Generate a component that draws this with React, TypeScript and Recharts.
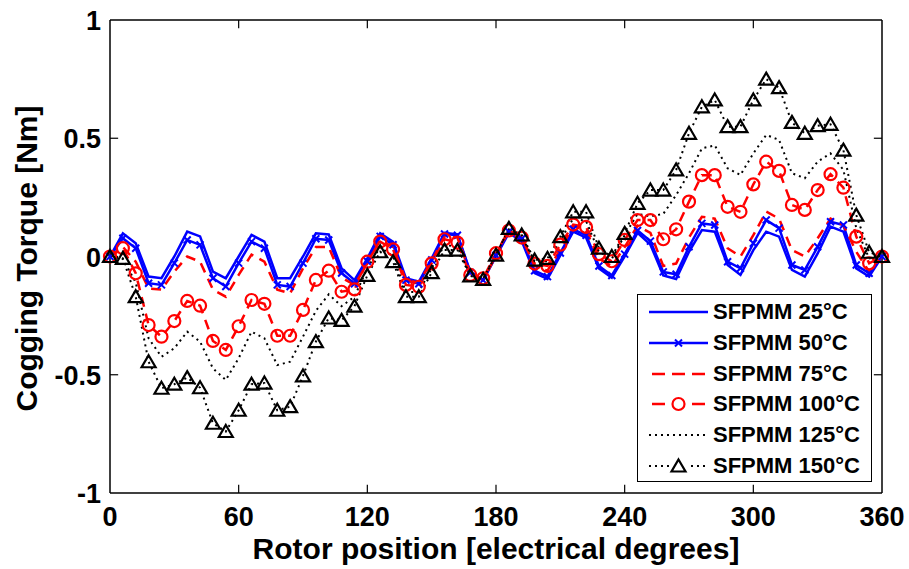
import React from 'react'
import { LineChart, Line, XAxis, YAxis, ReferenceLine, Legend } from 'recharts'

// rotor position, electrical degrees (6 deg step)
const positions = [
  0, 6, 12, 18, 24, 30, 36, 42, 48, 54, 60, 66, 72, 78, 84, 90, 96, 102, 108, 114, 120,
  126, 132, 138, 144, 150, 156, 162, 168, 174, 180, 186, 192, 198, 204, 210, 216, 222, 228, 234, 240,
  246, 252, 258, 264, 270, 276, 282, 288, 294, 300, 306, 312, 318, 324, 330, 336, 342, 348, 354, 360,
]

// cogging torque [Nm] per magnet temperature
const t25 = [
  0, 0.098, 0.056, -0.085, -0.092, 0.0, 0.105, 0.085, -0.064, -0.092, 0.0, 0.091, 0.063, -0.092, -0.092, 0.0,
  0.098, 0.093, -0.05, -0.1, -0.008, 0.098, 0.062, -0.092, -0.107, -0.008, 0.1, 0.093, -0.064, -0.1, 0.0,
  0.1, 0.065, -0.07, -0.095, 0.005, 0.105, 0.08, -0.05, -0.09, 0.0, 0.1, 0.05, -0.08, -0.095, 0.02,
  0.112, 0.105, -0.036, -0.078, 0.027, 0.105, 0.084, -0.057, -0.085, 0.013, 0.126, 0.105, -0.05, -0.085, 0,
]
const t50 = [
  0, 0.077, 0.035, -0.113, -0.12, -0.028, 0.07, 0.049, -0.092, -0.127, -0.028, 0.063, 0.035, -0.12, -0.127, -0.028,
  0.075, 0.07, -0.07, -0.115, -0.02, 0.085, 0.05, -0.1, -0.115, -0.015, 0.095, 0.09, -0.068, -0.1, 0.005,
  0.105, 0.075, -0.06, -0.085, 0.015, 0.115, 0.09, -0.04, -0.08, 0.01, 0.11, 0.065, -0.065, -0.075, 0.041,
  0.14, 0.133, -0.022, -0.05, 0.056, 0.154, 0.12, -0.036, -0.057, 0.041, 0.147, 0.133, -0.036, -0.071, 0,
]
const t75 = [
  0, 0.041, -0.022, -0.135, -0.14, -0.064, 0.0, -0.022, -0.14, -0.17, -0.078, 0.008, -0.022, -0.14, -0.156, -0.05,
  0.04, 0.04, -0.09, -0.12, -0.03, 0.07, 0.04, -0.1, -0.11, -0.02, 0.085, 0.08, -0.07, -0.1, 0.005,
  0.11, 0.08, -0.04, -0.06, 0.03, 0.13, 0.11, -0.01, -0.04, 0.04, 0.13, 0.1, -0.04, -0.03, 0.08,
  0.168, 0.16, 0.035, 0.0, 0.09, 0.19, 0.16, 0.027, 0.0, 0.077, 0.16, 0.133, 0.02, -0.064, 0,
]
const t100 = [
  0, 0.035, -0.071, -0.29, -0.339, -0.273, -0.188, -0.208, -0.357, -0.395, -0.295, -0.184, -0.2, -0.335, -0.335, -0.226,
  -0.099, -0.06, -0.149, -0.139, -0.022, 0.063, 0.03, -0.12, -0.128, -0.029, 0.073, 0.059, -0.078, -0.092, 0.014,
  0.11, 0.08, -0.03, -0.04, 0.05, 0.135, 0.125, 0.01, -0.02, 0.07, 0.154, 0.154, 0.073, 0.115, 0.232,
  0.344, 0.344, 0.21, 0.189, 0.305, 0.401, 0.362, 0.218, 0.197, 0.281, 0.348, 0.291, 0.084, -0.029, 0,
]
const t125 = [
  0, -0.01, -0.11, -0.346, -0.424, -0.388, -0.318, -0.36, -0.473, -0.522, -0.43, -0.318, -0.346, -0.459, -0.445, -0.339,
  -0.23, -0.16, -0.21, -0.17, -0.05, 0.04, 0.0, -0.15, -0.15, -0.05, 0.05, 0.04, -0.08, -0.095, 0.01,
  0.115, 0.085, -0.02, -0.02, 0.07, 0.16, 0.15, 0.02, -0.01, 0.09, 0.18, 0.17, 0.18, 0.26, 0.352,
  0.457, 0.47, 0.373, 0.345, 0.436, 0.514, 0.493, 0.352, 0.331, 0.401, 0.436, 0.366, 0.12, -0.008, 0,
]
const t150 = [
  0, -0.008, -0.17, -0.445, -0.557, -0.54, -0.512, -0.555, -0.705, -0.74, -0.65, -0.54, -0.535, -0.65, -0.635, -0.505,
  -0.36, -0.26, -0.27, -0.21, -0.08, 0.02, -0.022, -0.17, -0.17, -0.068, 0.027, 0.027, -0.082, -0.097, 0.006,
  0.119, 0.091, -0.015, -0.008, 0.084, 0.189, 0.189, 0.035, 0.0, 0.098, 0.225, 0.281, 0.281, 0.366, 0.521,
  0.633, 0.662, 0.549, 0.549, 0.662, 0.75, 0.714, 0.567, 0.521, 0.553, 0.559, 0.45, 0.175, 0.018, 0,
]

const xTicks = [0, 60, 120, 180, 240, 300, 360]
const yTicks = [-1, -0.5, 0, 0.5, 1]

const data = positions.map((pos, i) => ({
  pos,
  t25: t25[i],
  t50: t50[i],
  t75: t75[i],
  t100: t100[i],
  t125: t125[i],
  t150: t150[i],
}))

const FONT = "Arial, 'Liberation Sans', Helvetica, sans-serif"
const BLUE = '#0000FF'
const RED = '#FF0000'
const BLACK = '#000000'

type Marker = 'none' | 'x' | 'o' | 'tri'

const series: Array<{ key: string; name: string; color: string; width: number; dash?: string; marker: Marker }> = [
  { key: 't25', name: 'SFPMM 25°C', color: BLUE, width: 2.5, marker: 'none' },
  { key: 't50', name: 'SFPMM 50°C', color: BLUE, width: 2.5, marker: 'x' },
  { key: 't75', name: 'SFPMM 75°C', color: RED, width: 2.5, dash: '10 7', marker: 'none' },
  { key: 't100', name: 'SFPMM 100°C', color: RED, width: 2.5, dash: '10 7', marker: 'o' },
  { key: 't125', name: 'SFPMM 125°C', color: BLACK, width: 2, dash: '2 4', marker: 'none' },
  { key: 't150', name: 'SFPMM 150°C', color: BLACK, width: 2, dash: '2 4', marker: 'tri' },
]

function markerShape(kind: Marker, cx: number, cy: number, color: string, key?: string) {
  if (kind === 'x') {
    const s = 3.5
    return (
      <path
        key={key}
        d={`M${cx - s},${cy - s}L${cx + s},${cy + s}M${cx - s},${cy + s}L${cx + s},${cy - s}`}
        stroke={color}
        strokeWidth={2}
        fill="none"
      />
    )
  }
  if (kind === 'o') {
    return <circle key={key} cx={cx} cy={cy} r={6} stroke={color} strokeWidth={2.2} fill="none" />
  }
  if (kind === 'tri') {
    return (
      <path
        key={key}
        d={`M${cx},${cy - 6.5}L${cx + 7},${cy + 5.5}L${cx - 7},${cy + 5.5}Z`}
        stroke={color}
        strokeWidth={2.2}
        strokeLinejoin="miter"
        fill="none"
      />
    )
  }
  return <g key={key} />
}

const XTick = (props: any) => {
  const { x, y, payload } = props
  return (
    <text x={x} y={y + 33} textAnchor="middle" fontSize={27} fontWeight="bold" fontFamily={FONT} fill="#000">
      {payload.value}
    </text>
  )
}

const YTick = (props: any) => {
  const { x, y, payload } = props
  return (
    <text x={x - 9} y={y + 10} textAnchor="end" fontSize={27} fontWeight="bold" fontFamily={FONT} fill="#000">
      {payload.value}
    </text>
  )
}

const LegendBox = () => (
  <div
    style={{
      width: 233,
      height: 184,
      border: '1px solid #000',
      background: '#fff',
      paddingTop: 2,
      boxSizing: 'content-box',
    }}
  >
    {series.map((s) => (
      <div key={s.key} style={{ display: 'flex', alignItems: 'center', height: 30.7 }}>
        <svg width={75} height={20} style={{ display: 'block' }}>
          <line
            x1={11}
            x2={70}
            y1={10}
            y2={10}
            stroke={s.color}
            strokeWidth={s.width}
            strokeDasharray={s.dash === '10 7' ? '13 7' : s.dash}
            strokeDashoffset={s.dash === '10 7' ? -3 : 0}
          />
          {s.marker !== 'none' && s.marker !== 'x' && (
            <rect x={31} y={0} width={18} height={20} fill="#fff" />
          )}
          {markerShape(s.marker, 40.5, 10, s.color)}
        </svg>
        <span
          style={{
            fontFamily: FONT,
            fontWeight: 'bold',
            fontSize: 22,
            color: '#000',
            whiteSpace: 'nowrap',
            lineHeight: '22px',
          }}
        >
          {s.name}
        </span>
      </div>
    ))}
  </div>
)

export default function App() {
  return (
    <div style={{ position: 'absolute', left: 0, top: 0, width: 909, height: 569, background: '#fff' }}>
      <LineChart width={909} height={569} data={data} margin={{ top: 20, right: 27, bottom: 0, left: 0 }}>
        <XAxis
          dataKey="pos"
          type="number"
          domain={[0, 360]}
          ticks={xTicks}
          interval={0}
          tickLine={false}
          tickSize={0}
          tickMargin={0}
          axisLine={{ stroke: '#000', strokeWidth: 1.5 }}
          tick={<XTick />}
          height={76}
          label={{
            content: (p: any) => {
              const vb = p.viewBox
              return (
                <text
                  x={vb.x + vb.width / 2}
                  y={vb.y + 66}
                  textAnchor="middle"
                  fontSize={30}
                  fontWeight="bold"
                  fontFamily={FONT}
                  fill="#000"
                >
                  Rotor position [electrical degrees]
                </text>
              )
            },
          }}
        />
        <YAxis
          type="number"
          domain={[-1, 1]}
          ticks={yTicks}
          interval={0}
          tickLine={false}
          tickSize={0}
          tickMargin={0}
          axisLine={{ stroke: '#000', strokeWidth: 1.5 }}
          tick={<YTick />}
          width={110}
          allowDataOverflow
          label={{
            content: (p: any) => {
              const vb = p.viewBox
              const cx = 37
              const cy = vb.y + vb.height / 2 + 2
              return (
                <text
                  x={cx}
                  y={cy}
                  transform={`rotate(-90 ${cx} ${cy})`}
                  textAnchor="middle"
                  fontSize={30}
                  fontWeight="bold"
                  fontFamily={FONT}
                  fill="#000"
                >
                  Cogging Torque [Nm]
                </text>
              )
            },
          }}
        />
        {/* box */}
        <ReferenceLine y={1} stroke="#000" strokeWidth={1.5} />
        <ReferenceLine x={360} stroke="#000" strokeWidth={1.5} />
        {/* inward ticks, bottom and top */}
        {xTicks.slice(1, -1).map((t) => (
          <ReferenceLine key={`xb${t}`} segment={[{ x: t, y: -1 }, { x: t, y: -0.965 }]} stroke="#000" strokeWidth={1.2} />
        ))}
        {xTicks.slice(1, -1).map((t) => (
          <ReferenceLine key={`xt${t}`} segment={[{ x: t, y: 1 }, { x: t, y: 0.965 }]} stroke="#000" strokeWidth={1.2} />
        ))}
        {yTicks.slice(1, -1).map((t) => (
          <ReferenceLine key={`yl${t}`} segment={[{ x: 0, y: t }, { x: 3.8, y: t }]} stroke="#000" strokeWidth={1.2} />
        ))}
        {yTicks.slice(1, -1).map((t) => (
          <ReferenceLine key={`yr${t}`} segment={[{ x: 360, y: t }, { x: 356.2, y: t }]} stroke="#000" strokeWidth={1.2} />
        ))}
        {series.map((s) => (
          <Line
            key={s.key}
            dataKey={s.key}
            name={s.name}
            type="linear"
            stroke={s.color}
            strokeWidth={s.width}
            strokeDasharray={s.dash}
            isAnimationActive={false}
            activeDot={false}
            dot={
              s.marker === 'none'
                ? false
                : (p: any) => markerShape(s.marker, p.cx, p.cy, s.color, `${s.key}-${p.index}`)
            }
          />
        ))}
        <Legend
          layout="horizontal"
          verticalAlign="middle"
          align="center"
          content={<LegendBox />}
          wrapperStyle={{ left: 637, top: 294, width: 235, height: 188 }}
        />
      </LineChart>
    </div>
  )
}
